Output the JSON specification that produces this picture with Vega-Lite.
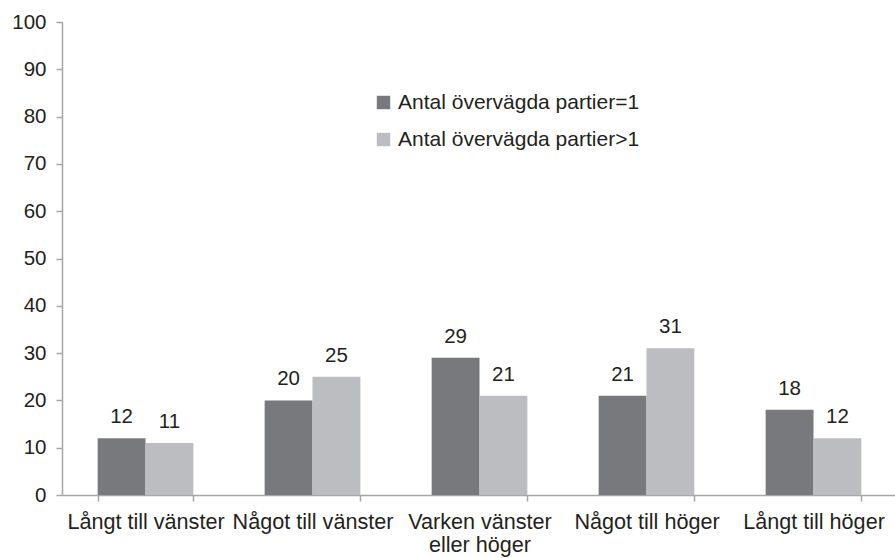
{
  "$schema": "https://vega.github.io/schema/vega-lite/v6.json",
  "width": 835,
  "height": 473,
  "autosize": "none",
  "padding": {"left": 62, "top": 22, "right": 0, "bottom": 63},
  "background": "white",
  "config": {
    "view": {"stroke": null},
    "font": "Liberation Sans",
    "axis": {"domainColor": "#a6a6a6", "tickColor": "#a6a6a6", "labelColor": "#231f20", "labelFont": "Liberation Sans", "labelFontSize": 21.6, "grid": false, "domainWidth": 1.5, "tickWidth": 1.5, "tickSize": 6}
  },
  "data": {
    "values": [
      {"cat": "Långt till vänster", "series": "Antal övervägda partier=1", "value": 12},
      {"cat": "Långt till vänster", "series": "Antal övervägda partier>1", "value": 11},
      {"cat": "Något till vänster", "series": "Antal övervägda partier=1", "value": 20},
      {"cat": "Något till vänster", "series": "Antal övervägda partier>1", "value": 25},
      {"cat": "Varken vänster eller höger", "series": "Antal övervägda partier=1", "value": 29},
      {"cat": "Varken vänster eller höger", "series": "Antal övervägda partier>1", "value": 21},
      {"cat": "Något till höger", "series": "Antal övervägda partier=1", "value": 21},
      {"cat": "Något till höger", "series": "Antal övervägda partier>1", "value": 31},
      {"cat": "Långt till höger", "series": "Antal övervägda partier=1", "value": 18},
      {"cat": "Långt till höger", "series": "Antal övervägda partier>1", "value": 12}
    ]
  },
  "encoding": {
    "x": {
      "field": "cat", "type": "nominal", "sort": null, "title": null,
      "scale": {"paddingInner": 0.427, "paddingOuter": 0.2135},
      "axis": {"labelAngle": 0, "tickBand": "extent", "labelPadding": 10, "labelLineHeight": 23, "labelLimit": 300,
        "labelExpr": "datum.label == 'Varken vänster eller höger' ? ['Varken vänster', 'eller höger'] : datum.label"}
    },
    "xOffset": {"field": "series", "type": "nominal", "sort": null},
    "y": {
      "field": "value", "type": "quantitative", "title": null,
      "scale": {"domain": [0, 100], "nice": false},
      "axis": {"values": [0,10,20,30,40,50,60,70,80,90,100], "labelPadding": 10, "labelFontSize": 20.5}
    }
  },
  "layer": [
    {
      "mark": {"type": "bar"},
      "encoding": {
        "color": {
          "field": "series", "type": "nominal", "sort": null,
          "scale": {"range": ["#78797c", "#bcbdc0"]},
          "legend": {
            "title": null, "orient": "none", "legendX": 311, "legendY": 70,
            "symbolType": "square", "symbolSize": 180, "symbolStrokeWidth": 0,
            "labelFontSize": 21, "labelColor": "#231f20", "labelFont": "Liberation Sans", "labelLimit": 400,
            "rowPadding": 15, "labelOffset": 4
          }
        }
      }
    },
    {
      "mark": {"type": "text", "baseline": "alphabetic", "dy": -15, "fontSize": 20.5, "color": "#231f20", "font": "Liberation Sans"},
      "encoding": {"text": {"field": "value", "type": "quantitative"}}
    }
  ]
}
